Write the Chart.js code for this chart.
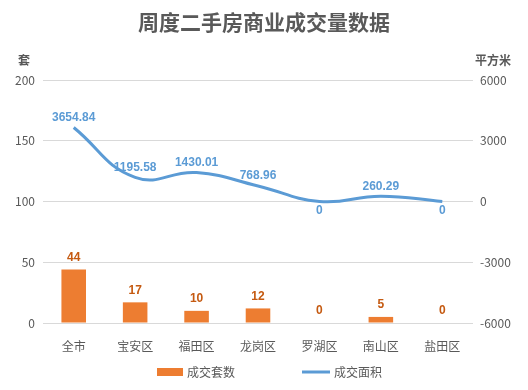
<!DOCTYPE html>
<html>
<head>
<meta charset="utf-8">
<script src="https://cdn.jsdelivr.net/npm/chart.js@4"></script>
<style>
    body { margin: 0; background: #ffffff; }
    #wrap { width: 528px; height: 390px; }
</style>
</head>
<body>
<div id="wrap"><canvas id="histogram"></canvas></div>
<script>
// categories and values
const districts = ["全市", "宝安区", "福田区", "龙岗区", "罗湖区", "南山区", "盐田区"]
const dealCount = [44, 17, 10, 12, 0, 5, 0]
const dealArea = [3654.84, 1195.58, 1430.01, 768.96, 0, 260.29, 0]
const countTicks = [0, 50, 100, 150, 200]
const areaTicks = [-6000, -3000, 0, 3000, 6000]

const FONT = "'Noto Sans CJK SC', 'Noto Sans', sans-serif"
const TEXT = "#595959"
const ORANGE = "#ED7D31"
const BLUE = "#5B9BD5"

// value labels above bars / line points, titles and legend
const labelsPlugin = {
    id: "valueLabels",
    afterDraw(chart) {
        let ctx = chart.ctx
        ctx.save()
        ctx.textAlign = "center"

        // title
        ctx.fillStyle = TEXT
        ctx.font = "bold 21px " + FONT
        ctx.textBaseline = "middle"
        ctx.fillText("周度二手房商业成交量数据", 264, 22)

        // axis unit names
        ctx.font = "bold 12px " + FONT
        ctx.fillText("套", 24, 60)
        ctx.fillText("平方米", 493, 60)

        // bar labels
        let barMeta = chart.getDatasetMeta(0)
        ctx.font = "bold 12px 'Liberation Sans', " + FONT
        ctx.fillStyle = "#C55A11"
        ctx.textBaseline = "bottom"
        barMeta.data.forEach((el, i) => {
            ctx.fillText(String(dealCount[i]), el.x, el.y - 6)
        })

        // line labels, zeros go below the line
        let lineMeta = chart.getDatasetMeta(1)
        ctx.fillStyle = BLUE
        lineMeta.data.forEach((el, i) => {
            if (dealArea[i] == 0) {
                ctx.textBaseline = "top"
                ctx.fillText("0", el.x, el.y + 3)
            } else {
                ctx.textBaseline = "bottom"
                ctx.fillText(dealArea[i].toFixed(2), el.x, el.y - 4)
            }
        })

        // legend
        ctx.textAlign = "left"
        ctx.textBaseline = "middle"
        ctx.font = "12px " + FONT
        ctx.fillStyle = ORANGE
        ctx.fillRect(157, 368, 26, 8)
        ctx.fillStyle = TEXT
        ctx.fillText(chart.data.datasets[0].label, 187, 372)
        ctx.strokeStyle = BLUE
        ctx.lineWidth = 3
        ctx.beginPath()
        ctx.moveTo(302, 372)
        ctx.lineTo(330, 372)
        ctx.stroke()
        ctx.fillText(chart.data.datasets[1].label, 334, 372)
        ctx.restore()
    }
}

var ctx1 = document.getElementById("histogram").getContext("2d")
var chart = new Chart(ctx1, {
    type: "bar",
    data: {
        labels: districts,
        datasets: [{
            label: "成交套数",
            data: dealCount,
            yAxisID: "y",
            backgroundColor: ORANGE,
            categoryPercentage: 1,
            barPercentage: 0.4
        },
        {
            label: "成交面积",
            type: "line",
            data: dealArea,
            yAxisID: "y1",
            borderColor: BLUE,
            borderWidth: 3,
            tension: 0.45,
            pointRadius: 0,
            fill: false
        }]
    },
    options: {
        responsive: true,
        maintainAspectRatio: false,
        animation: false,
        layout: { padding: { top: 80, bottom: 37, left: 0, right: 0 } },
        plugins: {
            legend: { display: false },
            title: { display: false },
            tooltip: { enabled: false }
        },
        scales: {
            x: {
                grid: { display: false },
                border: { display: false },
                ticks: { color: TEXT, font: { family: FONT, size: 12 }, padding: 8, maxRotation: 0 },
                afterFit: (s) => { s.height = 30 }
            },
            y: {
                position: "left",
                min: countTicks[0],
                max: countTicks[countTicks.length - 1],
                afterBuildTicks: (s) => { s.ticks = countTicks.map(v => ({ value: v })) },
                grid: { color: "#D9D9D9", lineWidth: 1, drawTicks: false },
                border: { display: false },
                ticks: { color: TEXT, font: { family: FONT, size: 12 }, padding: 8 },
                afterFit: (s) => { s.width = 43 }
            },
            y1: {
                position: "right",
                min: areaTicks[0],
                max: areaTicks[areaTicks.length - 1],
                afterBuildTicks: (s) => { s.ticks = areaTicks.map(v => ({ value: v })) },
                grid: { drawOnChartArea: false, drawTicks: false },
                border: { display: false },
                ticks: {
                    color: TEXT,
                    font: { family: FONT, size: 12 },
                    padding: 7,
                    callback: (v) => String(v)
                },
                afterFit: (s) => { s.width = 55 }
            }
        }
    },
    plugins: [labelsPlugin]
})
</script>
</body>
</html>
